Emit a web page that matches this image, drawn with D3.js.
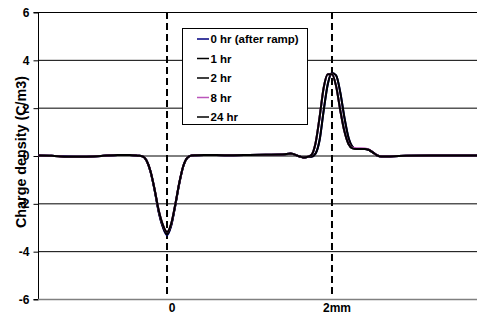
<!DOCTYPE html>
<html>
<head>
<meta charset="utf-8">
<script src="https://cdn.jsdelivr.net/npm/d3@7"></script>
<style>
  body { margin: 0; background: #fff; }
  svg { display: block; font-family: Arial, "Liberation Sans", sans-serif; font-weight: bold; }
</style>
</head>
<body>
<div id="chart"></div>
<script>
// position along the sample, mm
var positionMm = [-1.56, -1.4, -1.2, -1.0, -0.8, -0.6, -0.45, -0.35,
  -0.3, -0.25, -0.2, -0.15, -0.1, -0.05, 0, 0.05, 0.1, 0.15, 0.2, 0.25, 0.3,
  0.35, 0.45, 0.6, 0.8, 1.0, 1.2, 1.4, 1.5, 1.6, 1.65, 1.7,
  1.75, 1.8, 1.85, 1.9, 1.95, 2.0, 2.05, 2.1, 2.15, 2.2, 2.25, 2.3,
  2.35, 2.4, 2.45, 2.5, 2.55, 2.6, 2.7, 2.9, 3.2, 3.5, 3.76];

// charge density, C/m3
var hr0 = [0, -0.01, -0.04, -0.05, -0.02, 0.02, 0.02, -0.01,
  -0.03, -0.2, -0.68, -1.45, -2.38, -3.0, -3.33, -2.95, -2.1, -1.15, -0.42, -0.08, 0.0,
  0.01, 0.02, 0.02, 0.01, 0.02, 0.03, 0.04, 0.08, -0.03, -0.08, -0.06,
  -0.05, 0.08, 0.65, 1.9, 3.0, 3.45, 3.35, 2.65, 1.6, 0.75, 0.36, 0.27,
  0.27, 0.27, 0.23, 0.12, 0.0, -0.04, -0.04, -0.01, 0.0, 0.0, 0.0];
var hr1 = [0, -0.01, -0.05, -0.05, -0.02, 0.02, 0.02, -0.01,
  -0.03, -0.2, -0.68, -1.45, -2.36, -2.98, -3.3, -2.93, -2.1, -1.15, -0.42, -0.08, 0.0,
  0.01, 0.02, 0.02, 0.01, 0.02, 0.03, 0.04, 0.07, -0.03, -0.08, -0.06,
  -0.05, 0.08, 0.65, 1.9, 3.0, 3.45, 3.35, 2.65, 1.6, 0.75, 0.36, 0.27,
  0.27, 0.27, 0.23, 0.12, 0.0, -0.04, -0.04, -0.01, 0.0, 0.0, 0.0];
var hr2 = [0, -0.01, -0.05, -0.05, -0.02, 0.02, 0.02, -0.01,
  -0.03, -0.2, -0.66, -1.42, -2.32, -2.92, -3.22, -2.88, -2.06, -1.13, -0.42, -0.08, 0.0,
  0.01, 0.02, 0.02, 0.01, 0.02, 0.03, 0.04, 0.08, -0.03, -0.08, -0.06,
  0.02, 0.5, 1.6, 2.85, 3.4, 3.4, 2.9, 1.9, 1.02, 0.48, 0.3, 0.27,
  0.27, 0.27, 0.23, 0.12, 0.0, -0.04, -0.04, -0.01, 0.0, 0.0, 0.0];
var hr8 = [0, -0.01, -0.05, -0.05, -0.02, 0.02, 0.02, -0.01,
  -0.03, -0.2, -0.66, -1.42, -2.3, -2.9, -3.2, -2.86, -2.05, -1.12, -0.41, -0.08, 0.0,
  0.01, 0.02, 0.02, 0.01, 0.02, 0.03, 0.04, 0.08, -0.03, -0.08, -0.06,
  0.02, 0.5, 1.6, 2.85, 3.4, 3.4, 2.9, 1.9, 1.02, 0.5, 0.32, 0.3,
  0.3, 0.29, 0.24, 0.12, 0.0, -0.04, -0.04, -0.01, 0.0, 0.0, 0.0];
var hr24 = [0, -0.01, -0.05, -0.05, -0.02, 0.02, 0.02, -0.01,
  -0.03, -0.2, -0.66, -1.42, -2.3, -2.9, -3.2, -2.86, -2.05, -1.12, -0.41, -0.08, 0.0,
  0.01, 0.02, 0.02, 0.01, 0.02, 0.03, 0.04, 0.08, -0.03, -0.08, -0.06,
  0.02, 0.5, 1.6, 2.85, 3.4, 3.4, 2.9, 1.9, 1.02, 0.48, 0.3, 0.27,
  0.27, 0.27, 0.23, 0.12, 0.0, -0.04, -0.04, -0.01, 0.0, 0.0, 0.0];

var seriesNames = ["0 hr (after ramp)", "1 hr", "2 hr", "8 hr", "24 hr"];
var seriesValues = [hr0, hr1, hr2, hr8, hr24];
var seriesColors = ["#000080", "#000000", "#000000", "#bb55bb", "#000000"];

var yTicks = [-6, -4, -2, 0, 2, 4, 6];
var xTicks = [0, 2];
var xTickLabels = ["0", "2mm"];
var yTitle = "Charge density (C/m3)";

var width = 477, height = 322;
var plotLeft = 38, plotRight = 477, plotTop = 12, plotBottom = 299;

var svg = d3.select("#chart").append("svg")
  .attr("width", width)
  .attr("height", height);

var x = d3.scaleLinear().domain([-1.564, 3.758]).range([plotLeft, plotRight]);
var y = d3.scaleLinear().domain([-6, 6]).range([plotBottom, plotTop]);

// gridlines
svg.append("g")
  .selectAll("line")
  .data(yTicks.filter(function(d) { return d > -6; }))
  .enter().append("line")
    .attr("x1", plotLeft).attr("x2", plotRight)
    .attr("y1", function(d) { return y(d) + 0.5; })
    .attr("y2", function(d) { return y(d) + 0.5; })
    .attr("stroke", "#000")
    .attr("stroke-width", 1);

// y axis, plain hyphen for negatives like the original
var yAxis = d3.axisLeft(y).tickValues(yTicks).tickSize(5).tickPadding(4)
  .tickFormat(function(d) { return String(d); });
var gy = svg.append("g")
  .attr("transform", "translate(" + (plotLeft + 0.5) + ",0.5)")
  .call(yAxis);
gy.select(".domain").attr("stroke", "#000")
  .attr("d", "M-5," + plotTop + "H0V" + plotBottom + "H-5");
gy.selectAll(".tick line").attr("stroke", "#000");
gy.selectAll("text").attr("font-size", 12).attr("font-weight", "bold")
  .attr("font-family", "Arial, 'Liberation Sans', sans-serif").attr("fill", "#000");

// x axis (bottom, grey)
svg.append("line")
  .attr("x1", plotLeft).attr("x2", plotRight)
  .attr("y1", plotBottom + 0.5).attr("y2", plotBottom + 0.5)
  .attr("stroke", "#808080").attr("stroke-width", 1.5);

svg.append("g")
  .selectAll("text")
  .data(xTicks)
  .enter().append("text")
    .attr("x", function(d) { return x(d) + 5; })
    .attr("y", 312)
    .attr("text-anchor", "middle")
    .attr("font-size", 12)
    .text(function(d, i) { return xTickLabels[i]; });

// dashed markers at 0 and 2mm
svg.append("g")
  .selectAll("line")
  .data(xTicks)
  .enter().append("line")
    .attr("x1", function(d) { return x(d); })
    .attr("x2", function(d) { return x(d); })
    .attr("y1", plotTop).attr("y2", plotBottom - 2)
    .attr("stroke", "#000")
    .attr("stroke-width", 2)
    .attr("stroke-dasharray", "7,4");

// curves
var line = d3.line()
  .x(function(d, i) { return x(positionMm[i]); })
  .y(function(d) { return y(d); })
  .curve(d3.curveMonotoneX);

svg.append("g")
  .selectAll("path")
  .data(seriesValues)
  .enter().append("path")
    .attr("d", line)
    .attr("fill", "none")
    .attr("stroke", function(d, i) { return seriesColors[i]; })
    .attr("stroke-width", 2);

// y title
svg.append("text")
  .attr("transform", "translate(25.5,152) rotate(-90)")
  .attr("text-anchor", "middle")
  .attr("font-size", 14)
  .attr("textLength", 152)
  .attr("lengthAdjust", "spacingAndGlyphs")
  .text(yTitle);

// legend
var legend = svg.append("g");
legend.append("rect")
  .attr("x", 182.5).attr("y", 28.5)
  .attr("width", 125).attr("height", 96)
  .attr("fill", "#fff")
  .attr("stroke", "#000")
  .attr("stroke-width", 1);

var rows = legend.selectAll("g.row")
  .data(seriesNames)
  .enter().append("g")
    .attr("class", "row")
    .attr("transform", function(d, i) { return "translate(0," + (39 + i * 19.5) + ")"; });
rows.append("line")
  .attr("x1", 197).attr("x2", 209)
  .attr("y1", 0).attr("y2", 0)
  .attr("stroke", function(d, i) { return seriesColors[i]; })
  .attr("stroke-width", 1.5);
rows.append("text")
  .attr("x", 210.5)
  .attr("y", 0)
  .attr("dy", "0.35em")
  .attr("font-size", 11.5)
  .text(function(d) { return d; });
</script>
</body>
</html>
